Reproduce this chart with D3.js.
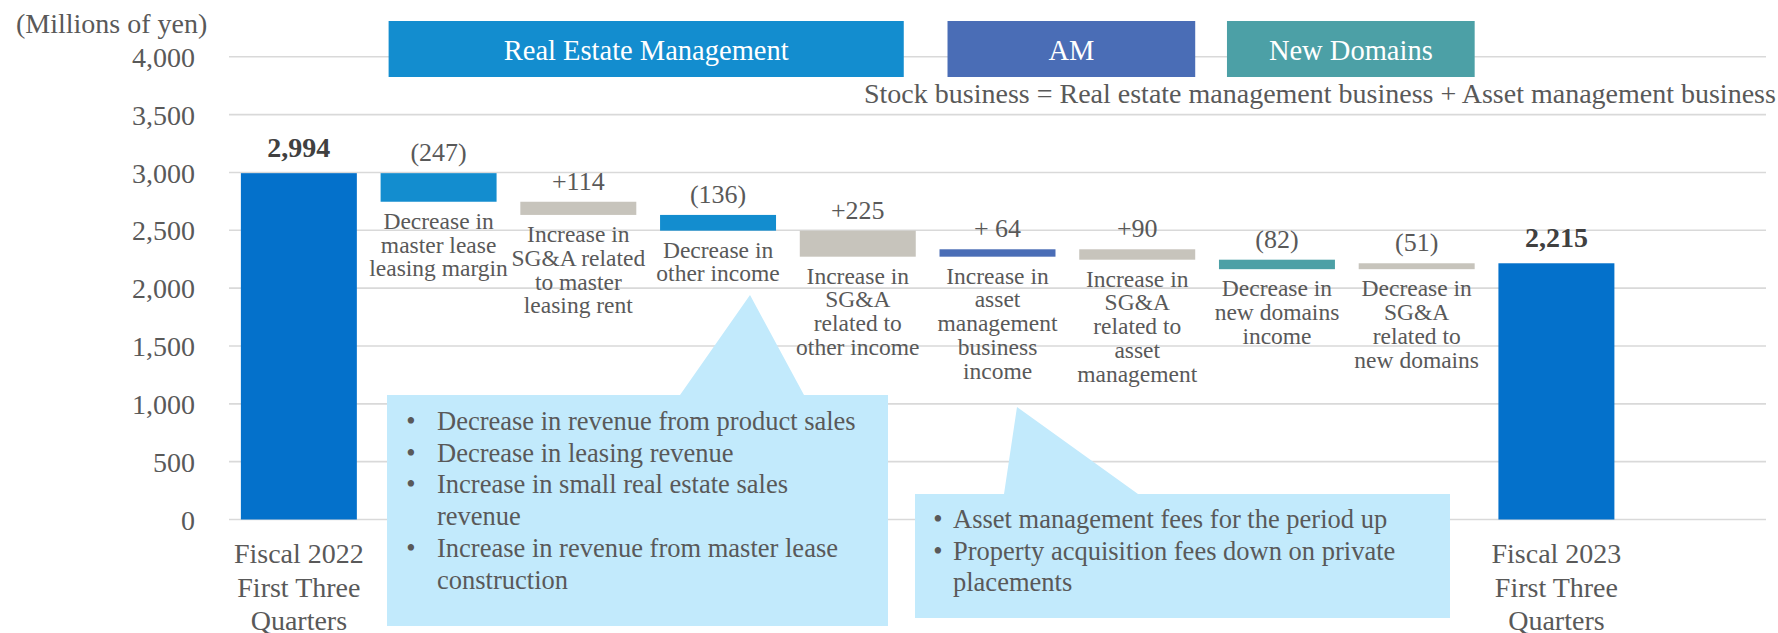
<!DOCTYPE html>
<html>
<head>
<meta charset="utf-8">
<script src="https://cdn.jsdelivr.net/npm/d3@7"></script>
<style>
    body { margin: 0; background: #ffffff; }
    svg { display: block; font-family: "Liberation Serif", "Times New Roman", serif; }
</style>
</head>
<body>
<svg id="chart" width="1778" height="633"></svg>
<script>
"use strict"

// categories of the bridge (last slot is left empty on purpose)
const categories = ["fy2022", "masterLease", "sgaMaster", "otherIncome", "sgaOther",
    "amIncome", "sgaAm", "ndIncome", "sgaNd", "fy2023", "blank"];

const categoryLabels = [
    ["Fiscal 2022", "First Three", "Quarters"],
    ["Decrease in", "master lease", "leasing margin"],
    ["Increase in", "SG&A related", "to master", "leasing rent"],
    ["Decrease in", "other income"],
    ["Increase in", "SG&A", "related to", "other income"],
    ["Increase in", "asset", "management", "business", "income"],
    ["Increase in", "SG&A", "related to", "asset", "management"],
    ["Decrease in", "new domains", "income"],
    ["Decrease in", "SG&A", "related to", "new domains"],
    ["Fiscal 2023", "First Three", "Quarters"]
];

const startValue = 2994;
const deltas = [-247, -114, -136, -225, 64, -90, -82, 51];
const endValue = 2215;

const valueLabels = ["2,994", "(247)", "+114", "(136)", "+225", "+ 64", "+90", "(82)", "(51)", "2,215"];
const barTypes = ["total", "re", "sga", "re", "sga", "am", "sga", "nd", "sga", "total"];

const yTicks = [0, 500, 1000, 1500, 2000, 2500, 3000, 3500, 4000];

const groups = [
    { name: "Real Estate Management", from: "masterLease", to: "sgaOther", type: "re" },
    { name: "AM", from: "amIncome", to: "sgaAm", type: "am" },
    { name: "New Domains", from: "ndIncome", to: "sgaNd", type: "nd" }
];

const calloutOne = [
    ["Decrease in revenue from product sales"],
    ["Decrease in leasing revenue"],
    ["Increase in small real estate sales", "revenue"],
    ["Increase in revenue from master lease", "construction"]
];
const calloutTwo = [
    ["Asset management fees for the period up"],
    ["Property acquisition fees down on private", "placements"]
];

const colors = {
    total: "#0471cb",
    re: "#138dcf",
    am: "#4a6db6",
    sga: "#c7c4bc",
    nd: "#4ca0a6"
};

const textGrey = "#595959";

// build the waterfall rows
let running = startValue;
const rows = [{ id: categories[0], lo: 0, hi: startValue }];
deltas.forEach((d, i) => {
    const next = running + d;
    rows.push({ id: categories[i + 1], lo: Math.min(running, next), hi: Math.max(running, next) });
    running = next;
});
rows.push({ id: categories[9], lo: 0, hi: endValue });
rows.forEach((r, i) => {
    r.label = valueLabels[i];
    r.type = barTypes[i];
    r.lines = categoryLabels[i];
});

const svg = d3.select("#chart");

const x = d3.scaleBand()
    .domain(categories)
    .range([229, 1766])
    .paddingInner(0.17)
    .paddingOuter(0.085);

const y = d3.scaleLinear()
    .domain([0, 4000])
    .range([519.5, 56.8]);

// grid
svg.append("g")
    .selectAll("line")
    .data(yTicks)
    .join("line")
    .attr("x1", 229)
    .attr("x2", 1766)
    .attr("y1", d => y(d))
    .attr("y2", d => y(d))
    .attr("stroke", "#d9d9d9")
    .attr("stroke-width", 1.6);

// y axis labels
const yAxis = svg.append("g")
    .attr("transform", "translate(195,0)")
    .call(d3.axisLeft(y).tickValues(yTicks).tickSize(0).tickPadding(0).tickFormat(d3.format(",")));
yAxis.select(".domain").remove();
yAxis.selectAll("text")
    .attr("font-family", "Liberation Serif, Times New Roman, serif")
    .attr("font-size", 28)
    .attr("fill", textGrey)
    .attr("dy", "0.34em");

svg.append("text")
    .attr("x", 16)
    .attr("y", 33)
    .attr("font-size", 28)
    .attr("fill", textGrey)
    .text("(Millions of yen)");

// bars
svg.append("g")
    .selectAll("rect")
    .data(rows)
    .join("rect")
    .attr("x", d => x(d.id))
    .attr("width", x.bandwidth())
    .attr("y", d => y(d.hi))
    .attr("height", d => y(d.lo) - y(d.hi))
    .attr("fill", d => colors[d.type]);

// value labels
svg.append("g")
    .selectAll("text")
    .data(rows)
    .join("text")
    .attr("x", d => x(d.id) + x.bandwidth() / 2)
    .attr("y", d => y(d.hi) - (d.type == "total" ? 16 : 12))
    .attr("text-anchor", "middle")
    .attr("font-size", d => d.type == "total" ? 28 : 26)
    .attr("font-weight", d => d.type == "total" ? "bold" : "normal")
    .attr("fill", d => d.type == "total" ? "#404040" : textGrey)
    .text(d => d.label);

// category labels
const catText = svg.append("g")
    .selectAll("text")
    .data(rows)
    .join("text")
    .attr("text-anchor", "middle")
    .attr("fill", textGrey)
    .attr("font-size", d => d.type == "total" ? 28 : 23.5)
    .attr("transform", d => {
        const cx = x(d.id) + x.bandwidth() / 2;
        const top = d.type == "total" ? 563 : y(d.lo) + 27;
        return `translate(${cx},${top})`;
    });

catText.selectAll("tspan")
    .data(d => d.lines.map((t, i) => ({ t, i, lh: d.type == "total" ? 33.5 : 23.8 })))
    .join("tspan")
    .attr("x", 0)
    .attr("y", d => d.i * d.lh)
    .text(d => d.t);

// segment headers
const head = svg.append("g")
    .selectAll("g")
    .data(groups)
    .join("g");

const headLeft = d => x(d.from) + 8;
const headRight = d => x(d.to) + x.bandwidth() - (d.type == "re" ? 12 : 0);

head.append("rect")
    .attr("x", headLeft)
    .attr("y", 21)
    .attr("width", d => headRight(d) - headLeft(d))
    .attr("height", 56)
    .attr("fill", d => colors[d.type]);

head.append("text")
    .attr("x", d => (headLeft(d) + headRight(d)) / 2)
    .attr("y", 60)
    .attr("text-anchor", "middle")
    .attr("font-size", 28.5)
    .attr("fill", "#ffffff")
    .text(d => d.name);

svg.append("text")
    .attr("x", 864)
    .attr("y", 103)
    .attr("font-size", 28)
    .attr("fill", textGrey)
    .text("Stock business = Real estate management business + Asset management business");

// callouts
const calloutFill = "#c2eafc";

function drawCallout(box, tip, lines, bulletX, textX, firstBase) {
    const g = svg.append("g");
    g.append("path")
        .attr("d", d3.line()([
            [box.x0, box.y0], [tip.b0, box.y0], [tip.x, tip.y], [tip.b1, box.y0],
            [box.x1, box.y0], [box.x1, box.y1], [box.x0, box.y1]
        ]) + "Z")
        .attr("fill", calloutFill);

    let line = 0;
    lines.forEach(item => {
        g.append("text")
            .attr("x", bulletX)
            .attr("y", firstBase + line * 31.7)
            .attr("text-anchor", "middle")
            .attr("font-size", 26.5)
            .attr("fill", textGrey)
            .text("\u2022");
        item.forEach(t => {
            g.append("text")
                .attr("x", textX)
                .attr("y", firstBase + line * 31.7)
                .attr("font-size", 26.5)
                .attr("fill", textGrey)
                .text(t);
            line++;
        });
    });
}

drawCallout({ x0: 387, y0: 395, x1: 888, y1: 626 }, { b0: 680, x: 750, y: 295, b1: 804 },
    calloutOne, 411, 437, 430);
drawCallout({ x0: 915, y0: 494, x1: 1450, y1: 618 }, { b0: 1004, x: 1017, y: 407, b1: 1138 },
    calloutTwo, 938, 953, 528);
</script>
</body>
</html>
